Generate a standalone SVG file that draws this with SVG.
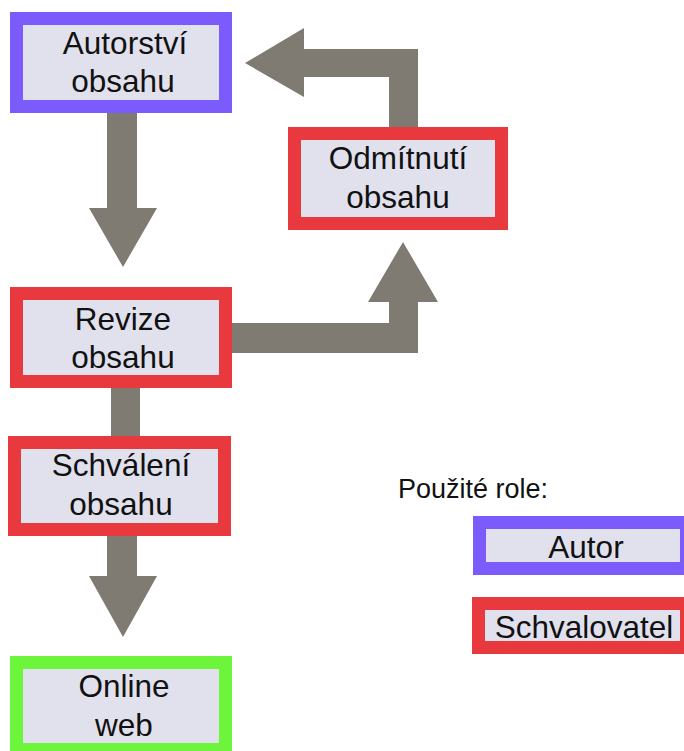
<svg xmlns="http://www.w3.org/2000/svg" width="684" height="751" viewBox="0 0 684 751">
  <style>
    .box { fill: #e1e1ee; stroke-width: 13; }
    .author { stroke: #7b5bfb; }
    .approver { stroke: #e7393e; }
    .online { stroke: #6df53b; }
    .label { font-family: "Liberation Sans", Arial, sans-serif; font-size: 31.5px; fill: #111; text-anchor: middle; }
    .legend-title { font-family: "Liberation Sans", Arial, sans-serif; font-size: 27px; fill: #111; }
    .flow { fill: #7f7b73; }
  </style>
  <rect width="684" height="751" fill="#ffffff"/>

  <!-- flow connectors -->
  <g id="connectors">
    <polygon class="flow" points="107,113 137,113 137,208 157,208 123,267 89,208 107,208"/>
    <polygon class="flow" points="232,323 389,323 389,302 368,302 403,242 438,302 418,302 418,353 232,353"/>
    <polygon class="flow" points="389,127 389,77 304,77 304,97 245,63 304,28 304,49 418,49 418,127"/>
    <rect class="flow" x="111" y="388" width="29" height="48"/>
    <polygon class="flow" points="107,536 137,536 137,576 157,576 123,637 89,576 107,576"/>
  </g>

  <g id="autorstvi">
    <rect class="box author" x="16.5" y="18.5" width="209" height="88"/>
    <text class="label" x="125" y="54">Autorství</text>
    <text class="label" x="123" y="92">obsahu</text>
  </g>

  <g id="odmitnuti">
    <rect class="box approver" x="294.5" y="133.5" width="207" height="90"/>
    <text class="label" x="398" y="169">Odmítnutí</text>
    <text class="label" x="398" y="208">obsahu</text>
  </g>

  <g id="revize">
    <rect class="box approver" x="16.5" y="293.5" width="209" height="88"/>
    <text class="label" x="123" y="330">Revize</text>
    <text class="label" x="123" y="368">obsahu</text>
  </g>

  <g id="schvaleni">
    <rect class="box approver" x="14.5" y="442.5" width="210" height="87"/>
    <text class="label" x="121" y="476">Schválení</text>
    <text class="label" x="121" y="515">obsahu</text>
  </g>

  <g id="online">
    <rect class="box online" x="16.5" y="662.5" width="209" height="87"/>
    <text class="label" x="124" y="697">Online</text>
    <text class="label" x="124" y="736">web</text>
  </g>

  <g id="legend">
    <text class="legend-title" x="398" y="498">Použité role:</text>
    <g id="legend-autor">
      <rect class="box author" x="479.5" y="522.5" width="207" height="46"/>
      <text class="label" x="586" y="558">Autor</text>
    </g>
    <g id="legend-schvalovatel">
      <rect class="box approver" x="478.5" y="603.5" width="208" height="44"/>
      <text class="label" x="584" y="638">Schvalovatel</text>
    </g>
  </g>
</svg>
